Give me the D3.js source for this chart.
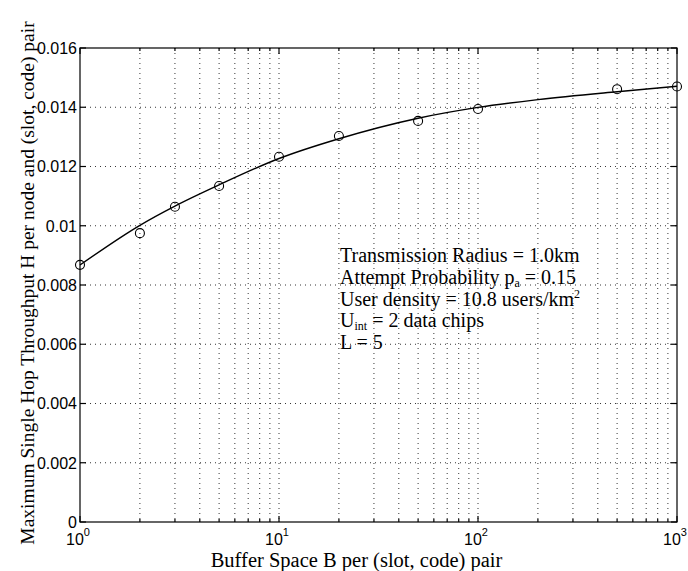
<!DOCTYPE html>
<html><head><meta charset="utf-8">
<script src="https://cdn.jsdelivr.net/npm/d3@7"></script>
<style>body{margin:0;background:#fff}svg{display:block}</style>
</head><body>
<script>
// Data
const bufferSpace = [1, 2, 3, 5, 10, 20, 50, 100, 500, 1000];
const throughputSim = [0.00868, 0.00975, 0.01064, 0.01134, 0.01233, 0.01303, 0.01354, 0.01394, 0.01461, 0.01470];
const curveB = [1, 2, 3, 5, 10, 20, 50, 100, 200, 500, 1000];
const curveH = [0.008675, 0.010015, 0.010663, 0.011379, 0.01227, 0.012938, 0.01363, 0.013995, 0.014258, 0.014525, 0.014707];
const yTicks = [0, 0.002, 0.004, 0.006, 0.008, 0.01, 0.012, 0.014, 0.016];
const yTickLabels = ["0", "0.002", "0.004", "0.006", "0.008", "0.01", "0.012", "0.014", "0.016"];
const xMajor = [1, 10, 100, 1000];
const xMajorExp = ["0", "1", "2", "3"];

const W = 688, H = 571;
const L = 80, R = 677, T = 48, B = 522;
const svg = d3.select("body").append("svg").attr("width", W).attr("height", H);
const x = d3.scaleLog().domain([1, 1000]).range([L, R]);
const y = d3.scaleLinear().domain([0, 0.016]).range([B, T]);

const xMinor = [];
for (let d = 1; d < 1000; d *= 10) for (let k = 2; k <= 9; k++) xMinor.push(d * k);

const grid = svg.append("g").attr("stroke", "#000").attr("stroke-width", 0.8).attr("stroke-dasharray", "1,4");
xMinor.concat(xMajor.slice(1, 3)).forEach(v => {
  grid.append("line").attr("x1", x(v)).attr("x2", x(v)).attr("y1", T).attr("y2", B);
});
yTicks.slice(1, -1).forEach(v => {
  grid.append("line").attr("x1", L).attr("x2", R).attr("y1", y(v)).attr("y2", y(v));
});

// Box
svg.append("rect").attr("x", L).attr("y", T).attr("width", R - L).attr("height", B - T)
  .attr("fill", "none").attr("stroke", "#000").attr("stroke-width", 1.2);

// Ticks (inward, all sides)
const tk = svg.append("g").attr("stroke", "#000").attr("stroke-width", 1.2);
yTicks.forEach(v => {
  tk.append("line").attr("x1", L).attr("x2", L + 6).attr("y1", y(v)).attr("y2", y(v));
  tk.append("line").attr("x1", R).attr("x2", R - 6).attr("y1", y(v)).attr("y2", y(v));
});
xMajor.forEach(v => {
  tk.append("line").attr("x1", x(v)).attr("x2", x(v)).attr("y1", B).attr("y2", B - 6);
  tk.append("line").attr("x1", x(v)).attr("x2", x(v)).attr("y1", T).attr("y2", T + 6);
});
xMinor.forEach(v => {
  tk.append("line").attr("x1", x(v)).attr("x2", x(v)).attr("y1", B).attr("y2", B - 3);
  tk.append("line").attr("x1", x(v)).attr("x2", x(v)).attr("y1", T).attr("y2", T + 3);
});

// Y tick labels
svg.append("g").selectAll("text").data(yTicks).join("text")
  .attr("x", L - 3).attr("y", d => y(d)).attr("dy", "0.36em")
  .attr("text-anchor", "end").attr("font-family", "Liberation Sans, Arial, sans-serif")
  .attr("font-size", 16).text((d, i) => yTickLabels[i]);

// X tick labels
xMajor.forEach((v, i) => {
  const t = svg.append("text").attr("x", x(v) - 2).attr("y", 545).attr("text-anchor", "middle")
    .attr("font-family", "Liberation Sans, Arial, sans-serif").attr("font-size", 16);
  t.append("tspan").text("10");
  t.append("tspan").attr("dy", -9).attr("font-size", 11).text(xMajorExp[i]);
});

// Axis labels
svg.append("text").attr("x", (L + R) / 2 - 22).attr("y", 567).attr("text-anchor", "middle")
  .attr("font-family", "Liberation Serif, Times New Roman, serif").attr("font-size", 20.5)
  .text("Buffer Space B per (slot, code) pair");
svg.append("text").attr("transform", `translate(34,${(B + T) / 2 - 2}) rotate(-90)`)
  .attr("text-anchor", "middle")
  .attr("font-family", "Liberation Serif, Times New Roman, serif").attr("font-size", 19.5)
  .text("Maximum Single Hop Throughput H per node and (slot, code) pair");

// Curve
const line = d3.line().x(d => x(d[0])).y(d => y(d[1])).curve(d3.curveMonotoneX);
svg.append("path").datum(curveB.map((b, i) => [b, curveH[i]]))
  .attr("d", line).attr("fill", "none").attr("stroke", "#000").attr("stroke-width", 1.4);

// Markers
svg.append("g").selectAll("circle").data(bufferSpace).join("circle")
  .attr("cx", d => x(d)).attr("cy", (d, i) => y(throughputSim[i])).attr("r", 4.5)
  .attr("fill", "none").attr("stroke", "#000").attr("stroke-width", 1.1);

// Annotation
const ann = svg.append("g").attr("font-family", "Liberation Serif, Times New Roman, serif").attr("font-size", 20);
const ax = 340;
ann.append("text").attr("x", ax).attr("y", 262).text("Transmission Radius = 1.0km");
const a2 = ann.append("text").attr("x", ax).attr("y", 284);
a2.append("tspan").text("Attempt Probability p");
a2.append("tspan").attr("dy", 3).attr("font-size", 12).text("a");
a2.append("tspan").attr("dy", -3).text(" = 0.15");
const a3 = ann.append("text").attr("x", ax).attr("y", 306);
a3.append("tspan").text("User density = 10.8 users/km");
a3.append("tspan").attr("dy", -8).attr("font-size", 12).text("2");
const a4 = ann.append("text").attr("x", ax).attr("y", 327);
a4.append("tspan").text("U");
a4.append("tspan").attr("dy", 3).attr("font-size", 12).text("int");
a4.append("tspan").attr("dy", -3).text(" = 2 data chips");
ann.append("text").attr("x", ax).attr("y", 349).text("L = 5");
</script>
</body></html>
